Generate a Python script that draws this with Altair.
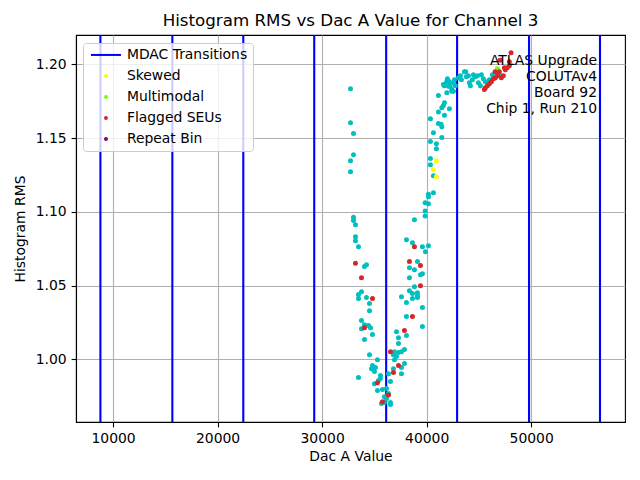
import altair as alt
import pandas as pd

# ---- data ----
mdac_x = [8786, 15669, 22457, 29244, 36128, 42915, 49798, 56586]

normal_x = [32715, 32715, 33001, 33001, 32715, 32715, 33001, 33001, 33193, 33193,
            33193, 33480, 34053, 34244, 33766, 33480, 33480, 34244, 34531, 34531,
            33766, 34053, 34435, 34627, 33766, 34818, 34053, 34531, 35296, 34818,
            34722, 34914, 35105, 35009, 33480, 35583, 35583, 35392, 35009, 35296,
            35774, 36157, 36348, 35965, 36157, 35678, 35965, 36539, 36539, 37304,
            36921, 37304, 37590, 37877, 36826, 37113, 36921, 37877, 37590, 36826,
            36348, 37590, 36539, 37113, 38068, 37304, 39598, 38068, 39598, 37590,
            38068, 38355, 38642, 39120, 39120, 39120, 38642, 38833, 38355, 39598,
            39407, 38355, 38833, 39120, 39885, 38068, 38642, 39598, 40171, 38833,
            39856, 39856, 39856, 40171, 40171, 40171, 40649, 40649, 40363, 40363,
            40936, 40936, 40363, 41453, 40649, 41127, 41385, 41453, 40363, 41701,
            41127, 42179, 41453, 41605, 41701, 41127, 41768, 42084, 42246, 42409,
            42561, 41605, 41931, 42084, 42409, 42561, 41931, 41988, 42179, 42657,
            42753, 43039, 43231, 43326, 43613, 43747, 43804, 43995, 44091, 44187,
            44378, 44473, 44665, 44856, 44952, 45143, 45238, 45429, 45621, 46003,
            46290, 46959, 41701]
normal_y = [1.1836, 1.1605, 1.1532, 1.1388, 1.1347, 1.1273, 1.0963, 1.0941, 1.0913, 1.0832,
            1.0805, 1.0764, 1.0629, 1.0642, 1.0459, 1.0439, 1.0412, 1.0419, 1.0378, 1.0330,
            1.0263, 1.0235, 1.0229, 1.0215, 1.0208, 1.0168, 1.0134, 1.0032, 0.9998, 0.9958,
            0.9937, 0.9930, 0.9944, 0.9917, 0.9876, 0.9890, 0.9870, 0.9856, 0.9835, 0.9788,
            0.9795, 0.9802, 0.9768, 0.9747, 0.9734, 0.9700, 0.9707, 0.9707, 0.9693, 1.0107,
            1.0052, 1.0046, 1.0052, 1.0066, 1.0032, 1.0019, 0.9998, 0.9971, 0.9944, 0.9937,
            0.9903, 0.9903, 0.9849, 1.0188, 1.0161, 1.0147, 1.0222, 1.0290, 1.0351, 1.0425,
            1.0385, 1.0466, 1.0446, 1.0452, 1.0432, 1.0419, 1.0412, 1.0493, 1.0554, 1.0581,
            1.0574, 1.0622, 1.0608, 1.0663, 1.0730, 1.0812, 1.0791, 1.0764, 1.0771, 1.0947,
            1.0972, 1.1006, 1.1063, 1.1056, 1.1119, 1.1103, 1.1130, 1.1246, 1.1320, 1.1363,
            1.1429, 1.1463, 1.1478, 1.1505, 1.1537, 1.1600, 1.1594, 1.1578, 1.1632, 1.1655,
            1.1677, 1.1700, 1.1707, 1.1722, 1.1741, 1.1790, 1.1865, 1.1887, 1.1853, 1.1819,
            1.1876, 1.1865, 1.1887, 1.1853, 1.1831, 1.1819, 1.1808, 1.1903, 1.1883, 1.1897,
            1.1856, 1.1910, 1.1924, 1.1897, 1.1951, 1.1951, 1.1917, 1.1924, 1.1876, 1.1856,
            1.1897, 1.1930, 1.1917, 1.1924, 1.1876, 1.1856, 1.1930, 1.1903, 1.1883, 1.1897,
            1.1930, 1.1930, 1.1856]

skewed_x = [40936, 40649, 40936]
skewed_y = [1.1239, 1.1286, 1.1347]

multimodal_x = [46768]
multimodal_y = [1.1971]

seu_x = [33193, 33766, 34818, 34053, 35296, 36348, 35774, 36539, 37304, 36826,
         37877, 38642, 39407, 39407, 38355, 38833, 45525, 45621, 45812, 46003,
         46194, 46385, 46577, 46768, 46959, 47150, 47341, 47533, 47724, 47915,
         47437, 47915, 48078, 47026, 46548]
seu_y = [1.0651, 1.0554, 1.0412, 1.0215, 0.9842, 0.9758, 0.9713, 1.0052, 0.9958, 0.9910,
         1.0195, 1.0290, 1.0500, 1.0636, 1.0663, 1.0764, 1.1831, 1.1842, 1.1856, 1.1869,
         1.1883, 1.1903, 1.1910, 1.1924, 1.1951, 1.1910, 1.1924, 1.1964, 1.1978, 1.1991,
         1.1978, 1.2019, 1.2080, 1.2029, 1.1951]

repeat_x = []
repeat_y = []

legend_cats = ["MDAC Transitions", "Skewed", "Multimodal", "Flagged SEUs", "Repeat Bin"]
all_cats = legend_cats + ["Normal"]
cat_colors = ["#0000ff", "#ffff00", "#7cfc00", "#d62728", "#800080", "#00bfbf"]
LINE_SYMBOL = "M-7.5,-0.5H7.5V0.5H-7.5Z"
cat_shapes = [LINE_SYMBOL, "circle", "circle", "circle", "circle", "circle"]

x_ticks = [10000, 20000, 30000, 40000, 50000]
y_ticks = [1.00, 1.05, 1.10, 1.15, 1.20]
annotation = ["ATLAS Upgrade", "COLUTAv4\u00a0", "Board 92", "Chip 1, Run 210"]

# ---- tables ----
rows = []
for cat, xs, ys, z in [("Normal", normal_x, normal_y, 0), ("Skewed", skewed_x, skewed_y, 1),
                       ("Multimodal", multimodal_x, multimodal_y, 2),
                       ("Flagged SEUs", seu_x, seu_y, 3), ("Repeat Bin", repeat_x, repeat_y, 4)]:
    for xv, yv in zip(xs, ys):
        rows.append({"dac": xv, "rms": yv, "cat": cat, "z": z})
pts = pd.DataFrame(rows)
mdac = pd.DataFrame({"dac": mdac_x})
ann = pd.DataFrame({"t": ["\n".join(annotation)]})

FONT = "DejaVu Sans"
xscale = alt.Scale(domain=[6450, 58980], nice=False, zero=False)
yscale = alt.Scale(domain=[0.9575, 1.2200], nice=False, zero=False)
xaxis = alt.Axis(values=x_ticks, format="d", title="Dac A Value", titlePadding=4)
yaxis = alt.Axis(values=y_ticks, format=".2f", title="Histogram RMS", titlePadding=8)

rules = alt.Chart(mdac).mark_rule(color="#0000ff", strokeWidth=2.1).encode(
    x=alt.X("dac:Q", scale=xscale, axis=xaxis)
)


def make_legend():
    return alt.Legend(
        values=legend_cats, title=None, orient="none", legendX=7, legendY=8,
        padding=5, fillColor="rgba(255,255,255,0.8)", strokeColor="#cccccc",
        cornerRadius=3, labelFont=FONT, labelFontSize=13.9, labelColor="black",
        symbolSize=16, symbolStrokeWidth=0, symbolOffset=11, labelOffset=14,
        symbolOpacity=1, rowPadding=6,
    )


points = alt.Chart(pts).mark_point(filled=True, size=25, opacity=1, strokeWidth=0).encode(
    x=alt.X("dac:Q", scale=xscale, axis=xaxis),
    y=alt.Y("rms:Q", scale=yscale, axis=yaxis),
    color=alt.Color("cat:N", scale=alt.Scale(domain=all_cats, range=cat_colors),
                    legend=make_legend()),
    shape=alt.Shape("cat:N", scale=alt.Scale(domain=all_cats, range=cat_shapes),
                    legend=make_legend()),
    order=alt.Order("z:Q"),
)

text = alt.Chart(ann).mark_text(
    align="right", baseline="top", lineBreak="\n", lineHeight=16,
    font=FONT, fontSize=13.9, color="black"
).encode(text="t:N", x=alt.value(521), y=alt.value(19))

chart = alt.layer(rules, points, text).properties(
    width=549, height=387,
    title=alt.Title("Histogram RMS vs Dac A Value for Channel 3", font=FONT,
                    fontSize=16.7, fontWeight="normal", color="black", offset=4),
    autosize=alt.AutoSizeParams(type="none"),
    padding={"left": 68, "top": 27, "right": 7, "bottom": 50},
).configure_view(stroke="black", strokeWidth=1.1).configure_axis(
    grid=True, gridColor="#b0b0b0", gridWidth=1.1,
    domainColor="black", domainWidth=1.1, tickColor="black", tickWidth=1.1,
    tickSize=4.9, labelPadding=4.9, labelColor="black", titleColor="black",
    labelFont=FONT, titleFont=FONT, labelFontSize=13.9, titleFontSize=13.9,
    titleFontWeight="normal",
)

chart.save("out.html", embed_options={"renderer": "svg", "actions": False})
